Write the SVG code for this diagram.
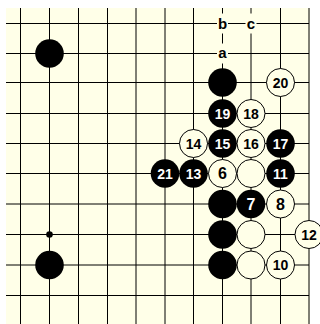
<svg xmlns="http://www.w3.org/2000/svg" width="320" height="324" viewBox="0 0 320 324">
<style>
.bg{fill:#FFFFE8}
.grid line{stroke:#000;stroke-width:1}
.b{fill:#000}
.w{fill:#FFFFE8;stroke:#000;stroke-width:1}
.t{font-family:"Liberation Sans",Arial,sans-serif;font-weight:bold;text-anchor:middle;dominant-baseline:central}
.n2{font-size:14px}
.n1{font-size:16px}
.tb{fill:#fff}
.tw{fill:#000}
.lbl{font-size:15px;fill:#000}
</style>
<rect x="0" y="0" width="320" height="324" fill="#fff"/>
<rect class="bg" x="6" y="8" width="304" height="316"/>
<g id="grid" class="grid">
<line x1="20.5" y1="8" x2="20.5" y2="324"/>
<line x1="49.5" y1="8" x2="49.5" y2="324"/>
<line x1="78.5" y1="8" x2="78.5" y2="324"/>
<line x1="107.5" y1="8" x2="107.5" y2="324"/>
<line x1="136" y1="8" x2="136" y2="324"/>
<line x1="165" y1="8" x2="165" y2="324"/>
<line x1="193.5" y1="8" x2="193.5" y2="324"/>
<line x1="222.5" y1="8" x2="222.5" y2="324"/>
<line x1="251" y1="8" x2="251" y2="324"/>
<line x1="280.5" y1="8" x2="280.5" y2="324"/>
<line x1="309" y1="8" x2="309" y2="324"/>
<line x1="6" y1="23.5" x2="309" y2="23.5"/>
<line x1="6" y1="53.5" x2="309" y2="53.5"/>
<line x1="6" y1="82.5" x2="309" y2="82.5"/>
<line x1="6" y1="113.5" x2="309" y2="113.5"/>
<line x1="6" y1="143.5" x2="309" y2="143.5"/>
<line x1="6" y1="173.5" x2="309" y2="173.5"/>
<line x1="6" y1="204" x2="309" y2="204"/>
<line x1="6" y1="234.5" x2="309" y2="234.5"/>
<line x1="6" y1="265" x2="309" y2="265"/>
<line x1="6" y1="295.5" x2="309" y2="295.5"/>
</g>
<circle class="b" cx="49.5" cy="234.5" r="3.3"/>
<g id="label-b"><rect class="bg" x="217" y="13.5" width="11" height="20"/><text class="t lbl" x="222.5" y="23.5">b</text></g>
<g id="label-c"><rect class="bg" x="245.5" y="13.5" width="11" height="20"/><text class="t lbl" x="251" y="23.5">c</text></g>
<g id="label-a"><rect class="bg" x="217" y="43.5" width="11" height="20"/><text class="t lbl" x="222.5" y="52.5">a</text></g>
<g id="black-tl"><circle class="b" cx="49.5" cy="53.5" r="14.3"/></g>
<g id="black-bl"><circle class="b" cx="49.5" cy="265" r="14.3"/></g>
<g id="black-r2"><circle class="b" cx="222.5" cy="82.5" r="14.3"/></g>
<g id="w20"><circle class="w" cx="280.5" cy="82.5" r="14"/><text class="t n2 tw" x="280.5" y="82.5">20</text></g>
<g id="b19"><circle class="b" cx="222.5" cy="113.5" r="14.3"/><text class="t n2 tb" x="222.5" y="113.5">19</text></g>
<g id="w18"><circle class="w" cx="251" cy="113.5" r="14"/><text class="t n2 tw" x="251" y="113.5">18</text></g>
<g id="w14"><circle class="w" cx="193.5" cy="143.5" r="14"/><text class="t n2 tw" x="193.5" y="143.5">14</text></g>
<g id="b15"><circle class="b" cx="222.5" cy="143.5" r="14.3"/><text class="t n2 tb" x="222.5" y="143.5">15</text></g>
<g id="w16"><circle class="w" cx="251" cy="143.5" r="14"/><text class="t n2 tw" x="251" y="143.5">16</text></g>
<g id="b17"><circle class="b" cx="280.5" cy="143.5" r="14.3"/><text class="t n2 tb" x="280.5" y="143.5">17</text></g>
<g id="b21"><circle class="b" cx="165" cy="173.5" r="14.3"/><text class="t n2 tb" x="165" y="173.5">21</text></g>
<g id="b13"><circle class="b" cx="193.5" cy="173.5" r="14.3"/><text class="t n2 tb" x="193.5" y="173.5">13</text></g>
<g id="w6"><circle class="w" cx="222.5" cy="173.5" r="14"/><text class="t n1 tw" x="222.5" y="173.5">6</text></g>
<g id="w-r5"><circle class="w" cx="251" cy="173.5" r="14"/></g>
<g id="b11"><circle class="b" cx="280.5" cy="173.5" r="14.3"/><text class="t n2 tb" x="280.5" y="173.5">11</text></g>
<g id="black-r6"><circle class="b" cx="222.5" cy="204" r="14.3"/></g>
<g id="b7"><circle class="b" cx="251" cy="204" r="14.3"/><text class="t n1 tb" x="251" y="204">7</text></g>
<g id="w8"><circle class="w" cx="280.5" cy="204" r="14"/><text class="t n1 tw" x="280.5" y="204">8</text></g>
<g id="black-r7"><circle class="b" cx="222.5" cy="234.5" r="14.3"/></g>
<g id="w-r7"><circle class="w" cx="251" cy="234.5" r="14"/></g>
<g id="w12"><circle class="w" cx="309" cy="234.5" r="14"/><text class="t n2 tw" x="309" y="234.5">12</text></g>
<g id="black-r8"><circle class="b" cx="222.5" cy="265" r="14.3"/></g>
<g id="w-r8"><circle class="w" cx="251" cy="265" r="14"/></g>
<g id="w10"><circle class="w" cx="280.5" cy="265" r="14"/><text class="t n2 tw" x="280.5" y="265">10</text></g>
</svg>
